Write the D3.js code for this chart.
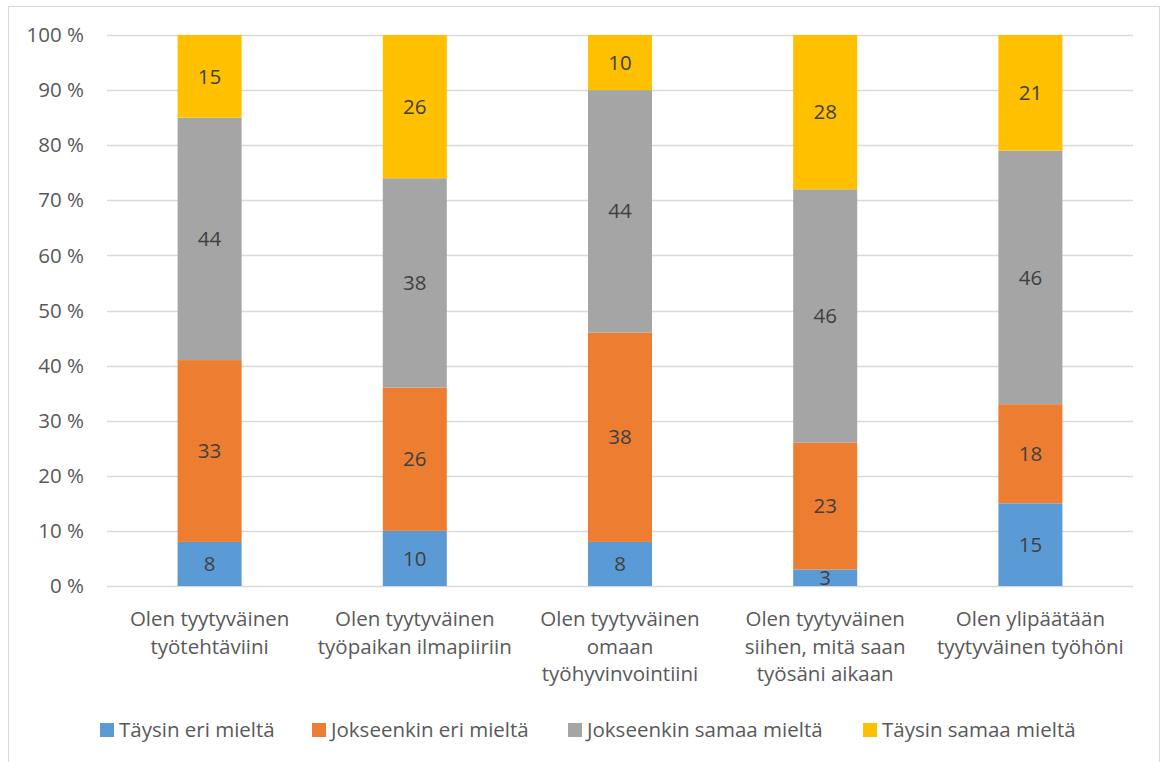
<!DOCTYPE html>
<html>
<head>
<meta charset="utf-8">
<script src="https://cdn.jsdelivr.net/npm/d3@7"></script>
<style>
  body { margin: 0; background: #fff; }
  svg { display: block; }
  text { font-family: "Open Sans", sans-serif; fill: #595959; }
</style>
</head>
<body>
<svg width="1164" height="762"></svg>
<script>
// categories (multi-line labels)
const categories = [
    ["Olen tyytyväinen", "työtehtäviini"],
    ["Olen tyytyväinen", "työpaikan ilmapiiriin"],
    ["Olen tyytyväinen", "omaan", "työhyvinvointiini"],
    ["Olen tyytyväinen", "siihen, mitä saan", "työsäni aikaan"],
    ["Olen ylipäätään", "tyytyväinen työhöni"]
];
const seriesNames = ["Täysin eri mieltä", "Jokseenkin eri mieltä", "Jokseenkin samaa mieltä", "Täysin samaa mieltä"];
const taysinEri = [8, 10, 8, 3, 15];
const jokseenkinEri = [33, 26, 38, 23, 18];
const jokseenkinSamaa = [44, 38, 44, 46, 46];
const taysinSamaa = [15, 26, 10, 28, 21];
const colors = ["#5B9BD5", "#ED7D31", "#A5A5A5", "#FFC000"];
const yTicks = [0, 10, 20, 30, 40, 50, 60, 70, 80, 90, 100];

const series = [taysinEri, jokseenkinEri, jokseenkinSamaa, taysinSamaa];
const rows = categories.map((c, i) => {
    const r = { i };
    series.forEach((s, k) => r["s" + k] = s[i]);
    return r;
});
const keys = series.map((s, k) => "s" + k);
const stacked = d3.stack().keys(keys).offset(d3.stackOffsetExpand)(rows);

const svg = d3.select("svg");
const fs = "20.5px";

// chart border
svg.append("rect")
    .attr("x", 8.5).attr("y", 6.5)
    .attr("width", 1151).attr("height", 770)
    .attr("fill", "none").attr("stroke", "#d9d9d9");

const x = d3.scaleBand().domain(d3.range(categories.length)).range([107, 1133]).paddingInner(0.688).paddingOuter(0.344);
const y = d3.scaleLinear().domain([0, 1]).range([586, 35]);

// gridlines
svg.append("g")
    .selectAll("line")
    .data(yTicks)
    .join("line")
    .attr("x1", 107).attr("x2", 1133)
    .attr("y1", d => Math.round(y(d / 100)) + 0.5)
    .attr("y2", d => Math.round(y(d / 100)) + 0.5)
    .attr("stroke", "#d9d9d9").attr("stroke-width", 1.3);

// y tick labels
svg.append("g")
    .selectAll("text")
    .data(yTicks)
    .join("text")
    .attr("x", 84)
    .attr("y", d => y(d / 100))
    .attr("dy", "0.35em")
    .attr("text-anchor", "end")
    .style("font-size", fs)
    .text(d => d + " %");

// bars
const layers = svg.append("g")
    .selectAll("g")
    .data(stacked)
    .join("g")
    .attr("fill", (d, k) => colors[k]);

layers.selectAll("rect")
    .data(d => d)
    .join("rect")
    .attr("x", (d, i) => x(i))
    .attr("width", x.bandwidth())
    .attr("y", d => y(d[1]))
    .attr("height", d => y(d[0]) - y(d[1]));

// value labels
stacked.forEach((layer, k) => {
    svg.append("g")
        .selectAll("text")
        .data(layer)
        .join("text")
        .attr("x", (d, i) => x(i) + x.bandwidth() / 2)
        .attr("y", d => (y(d[0]) + y(d[1])) / 2)
        .attr("dy", "0.35em")
        .attr("text-anchor", "middle")
        .style("font-size", fs)
        .style("fill", "#404040")
        .text((d, i) => series[k][i]);
});

// category labels
const catG = svg.append("g")
    .selectAll("text")
    .data(categories)
    .join("text")
    .attr("text-anchor", "middle")
    .style("font-size", fs);
catG.selectAll("tspan")
    .data((d, i) => d.map(line => ({ line, i })))
    .join("tspan")
    .attr("x", d => x(d.i) + x.bandwidth() / 2)
    .attr("y", (d, j) => 626 + j * 27.5)
    .text(d => d.line);

// legend
const legendX = [100, 312, 568, 863];
const legend = svg.append("g")
    .selectAll("g")
    .data(seriesNames)
    .join("g")
    .attr("transform", (d, k) => `translate(${legendX[k]},723)`);
legend.append("rect")
    .attr("width", 14).attr("height", 14)
    .attr("fill", (d, k) => colors[k]);
legend.append("text")
    .attr("x", 19).attr("y", 7).attr("dy", "0.35em")
    .style("font-size", fs)
    .text(d => d);
</script>
</body>
</html>
